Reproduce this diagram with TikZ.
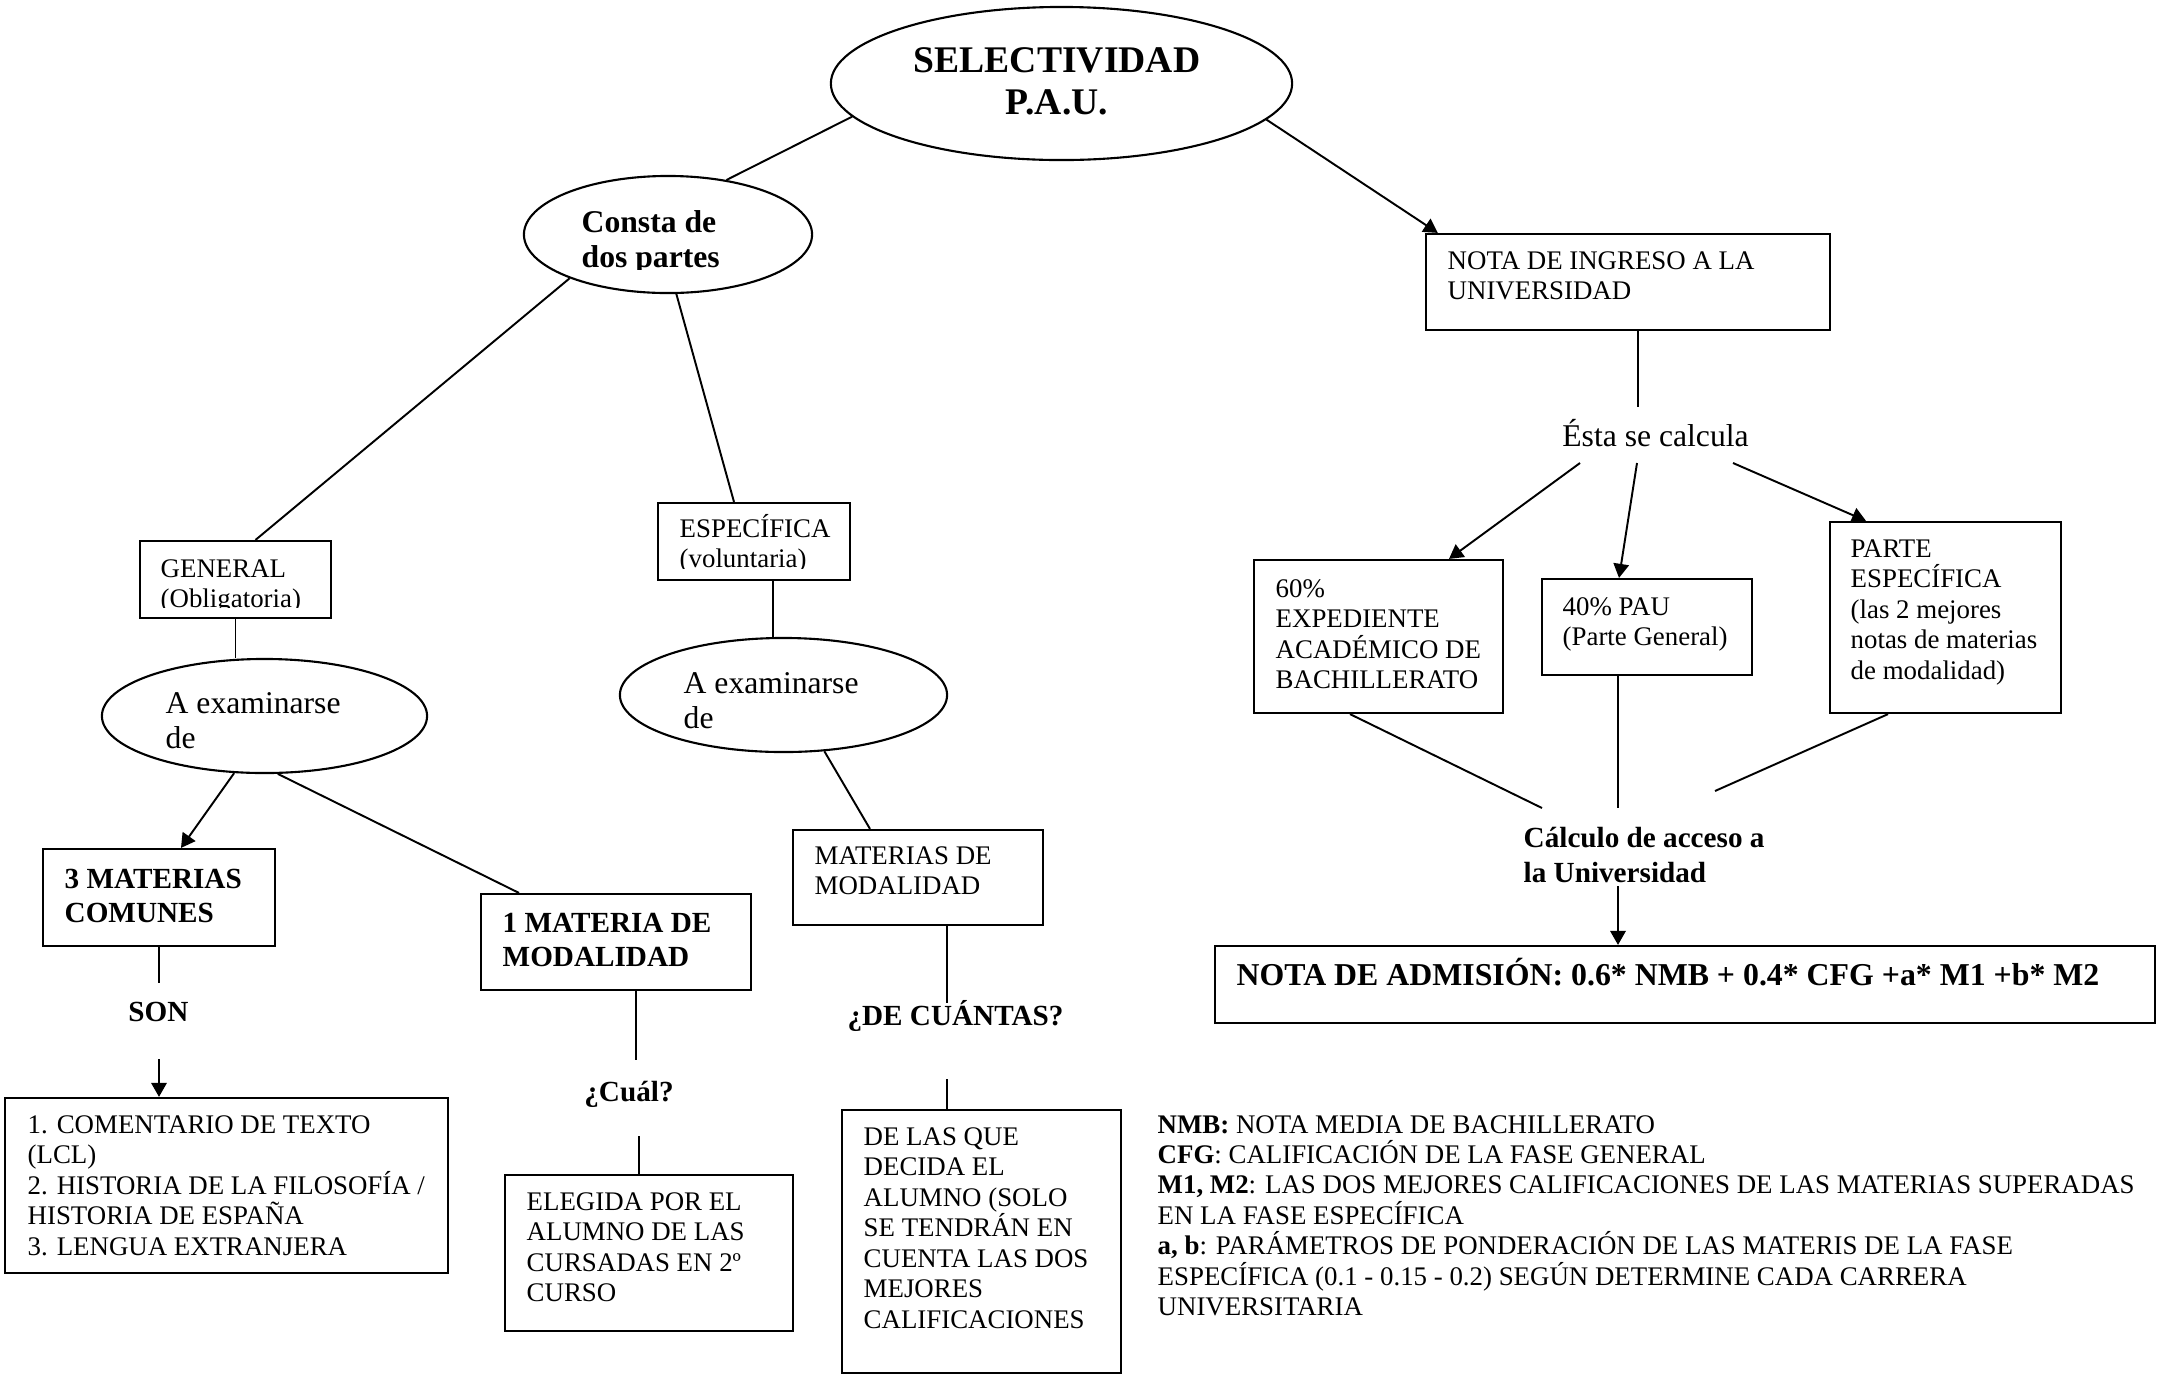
\documentclass[tikz,border=0pt]{standalone}
\usepackage{fontspec}
\setmainfont{Liberation Serif}
\usetikzlibrary{arrows.meta,calc,shapes.geometric}
\newcommand\mlL[1]{\vtop{\lineskiplimit=-30pt\relax\let\\\cr\halign{##\hfil\cr#1\crcr}}}
\newcommand\mlC[1]{\vtop{\lineskiplimit=-30pt\relax\let\\\cr\halign{\hfil##\hfil\cr#1\crcr}}}
\tikzset{
  box/.style={draw, line width=0.6pt, inner sep=0pt},
  ell/.style={draw, ellipse, line width=0.6pt, inner sep=0pt},
  ln/.style={line width=0.55pt},
  ar/.style={line width=0.55pt, -{Triangle[length=4pt,width=4.4pt]}},
  txt/.style={inner sep=0pt, anchor=base west, font=\fontsize{7.64}{8.68}\selectfont},
  txtb/.style={inner sep=0pt, anchor=base west, font=\fontsize{8.3}{9.7}\selectfont\bfseries},
  txtbig/.style={inner sep=0pt, anchor=base west, font=\fontsize{9}{10}\selectfont},
  lbl/.style={inner sep=0pt, anchor=base, font=\fontsize{8.3}{9.7}\selectfont\bfseries},
}
\begin{document}
\begin{tikzpicture}[x=0.01cm, y=-0.01cm]
\fill[white] (0,0) rectangle (2157,1378);
\useasboundingbox (0,0) rectangle (2157,1378);

% ---------- ellipses ----------
\node[ell, minimum width=4.61cm, minimum height=1.53cm] (sel) at (1061.5,83.5) {};
\node[inner sep=0pt, anchor=base, font=\fontsize{10.7}{12.2}\selectfont\bfseries] (selT) at (1057,72) {\mlC{SELECTIVIDAD\\P.A.U.}};

\node[ell, minimum width=2.88cm, minimum height=1.17cm] (consta) at (668,234.5) {};
\begin{scope}
  \clip (524,150) rectangle (812,269.5);
  \node[inner sep=0pt, anchor=base west, font=\fontsize{9}{10.2}\selectfont\bfseries] (constaT) at (581,232) {\mlL{Consta de\\dos partes}};
\end{scope}

\node[ell, minimum width=3.25cm, minimum height=1.14cm] (ex1) at (264.5,716) {};
\node[txtbig] (ex1T) at (165,713) {\mlL{A examinarse\\de}};
\node[ell, minimum width=3.27cm, minimum height=1.14cm] (ex2) at (783.5,695) {};
\node[txtbig] (ex2T) at (683,693) {\mlL{A examinarse\\de}};

% ---------- boxes, left ----------
\node[box, minimum width=1.91cm, minimum height=0.77cm] (gen) at (235.5,579.5) {};
\begin{scope}
  \clip (140,541) rectangle (331,607.5);
  \node[txt] (genT) at (160,577) {\mlL{GENERAL\\(Obligatoria)}};
\end{scope}
\node[box, minimum width=1.92cm, minimum height=0.77cm] (esp) at (754,541.5) {};
\begin{scope}
  \clip (658,503) rectangle (850,568.5);
  \node[txt] (espT) at (679,537) {\mlL{ESPECÍFICA\\(voluntaria)}};
\end{scope}

\node[box, minimum width=2.32cm, minimum height=0.97cm] (tres) at (159,897.5) {};
\node[txtb] (tresT) at (64,888) {\mlL{3 MATERIAS\\COMUNES}};
\node[box, minimum width=2.70cm, minimum height=0.96cm] (uno) at (616,942) {};
\node[txtb] (unoT) at (502,932) {\mlL{1 MATERIA DE\\MODALIDAD}};
\node[box, minimum width=2.50cm, minimum height=0.95cm] (matmod) at (918,877.5) {};
\node[txt] (matmodT) at (814,864) {\mlL{MATERIAS DE\\MODALIDAD}};

\node[lbl] (son) at (158.5,1021) {SON};
\node[lbl] (cual) at (629,1101) {¿Cuál?};
\node[lbl] (cuantas) at (955.5,1025) {¿DE CUÁNTAS?};

\node[box, minimum width=4.43cm, minimum height=1.75cm] (coment) at (226.5,1185.5) {};
\node[txt] (comentT) at (27,1133) {\mlL{1. COMENTARIO DE TEXTO\\(LCL)\\2. HISTORIA DE LA FILOSOFÍA /\\HISTORIA DE ESPAÑA\\3. LENGUA EXTRANJERA}};
\node[box, minimum width=2.88cm, minimum height=1.56cm] (eleg) at (649,1253) {};
\node[txt] (elegT) at (526,1210) {\mlL{ELEGIDA POR EL\\ALUMNO DE LAS\\CURSADAS EN 2º\\CURSO}};
\node[box, minimum width=2.79cm, minimum height=2.63cm] (delas) at (981.5,1241.5) {};
\node[txt] (delasT) at (863,1145) {\mlL{DE LAS QUE\\DECIDA EL\\ALUMNO (SOLO\\SE TENDRÁN EN\\CUENTA LAS DOS\\MEJORES\\CALIFICACIONES}};

% ---------- boxes, right ----------
\node[box, minimum width=4.04cm, minimum height=0.96cm] (ingreso) at (1628,282) {};
\node[txt] (ingresoT) at (1447,269) {\mlL{NOTA DE INGRESO A LA\\UNIVERSIDAD}};
\node[inner sep=0pt, anchor=base, font=\fontsize{9}{10}\selectfont] (esta) at (1655.5,446) {Ésta se calcula};

\node[box, minimum width=2.49cm, minimum height=1.53cm] (sesenta) at (1378.5,636.5) {};
\node[txt] (sesentaT) at (1275,597) {\mlL{60\%\\EXPEDIENTE\\ACADÉMICO DE\\BACHILLERATO}};
\node[box, minimum width=2.10cm, minimum height=0.96cm] (cuarenta) at (1647,627) {};
\node[txt] (cuarentaT) at (1562,615) {\mlL{40\% PAU\\(Parte General)}};
\node[box, minimum width=2.31cm, minimum height=1.91cm] (parte) at (1945.5,617.5) {};
\node[txt] (parteT) at (1850,557) {\mlL{PARTE\\ESPECÍFICA\\(las 2 mejores\\notas de materias\\de modalidad)}};

\node[txtb, font=\fontsize{8.3}{9.96}\selectfont\bfseries] (calc) at (1523,847) {\mlL{Cálculo de acceso a\\la Universidad}};

\node[box, minimum width=9.40cm, minimum height=0.77cm] (admision) at (1685,984.5) {};
\node[inner sep=0pt, anchor=base west, font=\fontsize{9.05}{10}\selectfont\bfseries] (admisionT) at (1236,985) {NOTA DE ADMISIÓN: 0.6* NMB + 0.4* CFG +a* M1 +b* M2};

\node[txt, font=\fontsize{7.64}{8.65}\selectfont] (legend) at (1157,1133) {\mlL{\textbf{NMB:} NOTA MEDIA DE BACHILLERATO\\\textbf{CFG}: CALIFICACIÓN DE LA FASE GENERAL\\\textbf{M1, M2}: LAS DOS MEJORES CALIFICACIONES DE LAS MATERIAS SUPERADAS\\EN LA FASE ESPECÍFICA\\\textbf{a, b}: PARÁMETROS DE PONDERACIÓN DE LAS MATERIS DE LA FASE\\ESPECÍFICA (0.1 - 0.15 - 0.2) SEGÚN DETERMINE CADA CARRERA\\UNIVERSITARIA}};

% ---------- free-end coordinates ----------
\coordinate (espS) at ($(esp.south)+(19,0)$);
\coordinate (sonA) at (159,983);
\coordinate (sonB) at (159,1059);
\coordinate (cualA) at (636,1060);
\coordinate (cualB) at (639,1136);
\coordinate (cuanA) at (947,1003);
\coordinate (cuanB) at (947,1079);
\coordinate (estaA) at (1638,407);
\coordinate (e60) at (1580,463);
\coordinate (e40) at (1637,463);
\coordinate (ePE) at (1733,463);
\coordinate (c60) at (1542,808);
\coordinate (c40) at (1618,808);
\coordinate (cPE) at (1715,791);
\coordinate (cAd) at (1618,886);

% ---------- connectors ----------
\draw[ln] (sel.189) -- (consta.43);
\draw[ar] (sel.350) -- ($(ingreso.north west)+(13,0)$);
\draw[ln] (consta.204) -- ($(gen.north)+(20,0)$);
\draw[ln] (consta.278) -- ($(esp.north)+(-20,0)$);
\draw[ln] (gen.south) -- (gen.south |- ex1.north);
\draw[ln] (espS) -- (espS |- ex2.north);
\draw[ar] (ex1.242) -- ($(tres.north)+(22,0)$);
\draw[ln] (ex1.283) -- ($(uno.north)+(-97,0)$);
\draw[ln] (ex2.306) -- ($(matmod.north)+(-48,0)$);

\draw[ln] (tres.south) -- (sonA);
\draw[ar] (sonB) -- (sonB |- coment.north);
\draw[ln] (cualA |- uno.south) -- (cualA);
\draw[ln] (cualB) -- (cualB |- eleg.north);
\draw[ln] (cuanA |- matmod.south) -- (cuanA);
\draw[ln] (cuanB) -- (cuanB |- delas.north);

\draw[ln] (estaA |- ingreso.south) -- (estaA);
\draw[ar] (e60) -- ($(sesenta.north)+(70.5,0)$);
\draw[ar] (e40) -- ($(cuarenta.north)+(-28,0)$);
\draw[ar] (ePE) -- ($(parte.north)+(-79.5,0)$);
\draw[ln] ($(sesenta.south)+(-28.5,0)$) -- (c60);
\draw[ln] (c40 |- cuarenta.south) -- (c40);
\draw[ln] ($(parte.south)+(-57.5,0)$) -- (cPE);
\draw[ar] (cAd) -- (cAd |- admision.north);
\end{tikzpicture}
\end{document}
